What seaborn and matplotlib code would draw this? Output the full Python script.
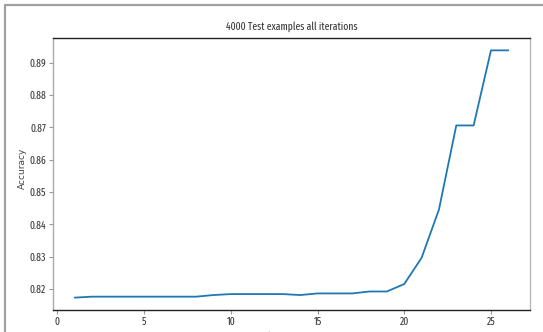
import numpy as np
import pandas as pd
import seaborn as sns
import matplotlib.pyplot as plt
from matplotlib.lines import Line2D

# Data
iterations = list(range(1, 27))
accuracy = [0.8174, 0.8177, 0.8177, 0.8177, 0.8177, 0.8177, 0.8177, 0.8177,
            0.8182, 0.8185, 0.8185, 0.8185, 0.8185, 0.8182, 0.8187, 0.8187,
            0.8187, 0.8193, 0.8193, 0.8216, 0.8297, 0.8446, 0.8706, 0.8706,
            0.8938, 0.8938]

df = pd.DataFrame({'iterations': iterations, 'accuracy': accuracy})

sns.set_theme(style='white')
plt.rcParams['font.family'] = ['Fira Sans Extra Condensed', 'DejaVu Sans']

W, H = 543, 332
fig = plt.figure(figsize=(W / 100, H / 100), dpi=100)
ax = fig.add_axes([53 / W, 1 - 310 / H, (530 - 53) / W, (310 - 38) / H])

sns.lineplot(data=df, x='iterations', y='accuracy', ax=ax, color='#1f77b4', linewidth=1.3)

ax.set_title('4000 Test examples all iterations', fontsize=7.5, pad=6, color='#333333')
ax.set_xlabel('Number of iterations', fontsize=7.5, labelpad=3, color='#333333')
ax.set_ylabel('Accuracy', fontsize=6.5, family='DejaVu Sans', color='#444444')
ax.yaxis.set_label_coords(-0.055, 0.52)
ax.set_xticks([0, 5, 10, 15, 20, 25])
ax.set_yticks([0.82, 0.83, 0.84, 0.85, 0.86, 0.87, 0.88, 0.89])
ax.tick_params(axis='both', labelsize=7.5, length=3, width=0.8, color='#999999',
               labelcolor='#333333', left=True, bottom=True, pad=2)

ax.spines['top'].set_color('#222222')
ax.spines['bottom'].set_color('#222222')
ax.spines['left'].set_color('#aaaaaa')
ax.spines['right'].set_color('#bbbbbb')
for s in ax.spines.values():
    s.set_linewidth(1.0)

# screenshot frame
fig.add_artist(Line2D([4.5 / W, 4.5 / W], [0, 1 - 4.5 / H], transform=fig.transFigure,
                      color='#a0a0a0', linewidth=1.6))
fig.add_artist(Line2D([4.5 / W, 1], [1 - 4.5 / H, 1 - 4.5 / H], transform=fig.transFigure,
                      color='#a0a0a0', linewidth=1.6))

fig.savefig('out.png', dpi=100)
